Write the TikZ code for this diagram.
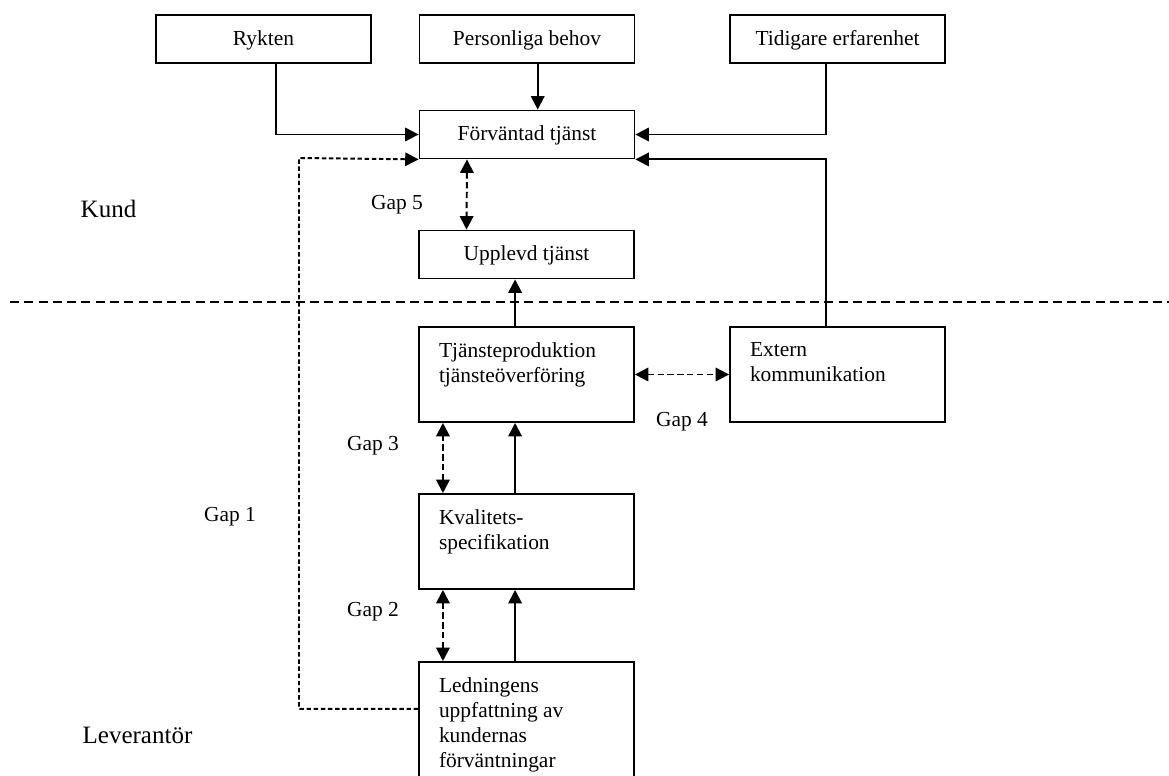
\documentclass[tikz,border=0pt]{standalone}
\usepackage{fontspec}
\setmainfont{Liberation Serif}
\usetikzlibrary{
  arrows.meta,
  calc,
  positioning
}
\tikzset{
%
  % For normal lines.
  line/.style={
    line width=1.1pt},
%
  % For thin lines.
  thin line/.style={
    line width=1pt},
%
  % For the solid flow 'A feeds B'.
  flow/.style={
    line,
    -{Triangle[length=7.5pt,
               width=7.5pt]}},
%
  % For the dashed link of gap 1.
  link/.style={
    line,
    dash pattern=on 2.5pt off 1.5pt,
    -{Triangle[length=7.5pt,
               width=7.5pt]}},
%
  % For the gaps between two boxes.
  gap/.style={
    line,
    dash pattern=on 3.5pt off 2pt,
    {Triangle[length=7.5pt,
              width=7.5pt]}-{Triangle[length=7.5pt,
                                      width=7.5pt]}},
%
  % For the line between customer and supplier.
  divider/.style={
    line,
    dash pattern=on 5pt off 3pt},
%
  % For boxes in general.
  box/.style={
    thin line,
    draw,
    inner sep=0pt,
    text height=0.9em,
    text depth=0.22em,
    minimum width=120.4pt,
    minimum height=26.9pt},
%
  % For the big boxes with text at the top.
  tall box/.style={
    box,
    minimum height=53.2pt},
%
  % For text in the big boxes.
  box text/.style={
    anchor=north west,
    align=left,
    inner xsep=11.5pt,
    inner ysep=9pt},
%
  % For the side labels.
  side label/.style={
    font=\fontsize{14}{17}\selectfont}
}

\begin{document}
\begin{tikzpicture}[x=0.56pt, y=-0.56pt,
                    font=\fontsize{12}{14}\selectfont]
  \useasboundingbox (0,0) rectangle (1169,776);

  \node[box] (rykten) at (263.5,39) {Rykten};
  \node[box] (behov) at (527,39) {Personliga behov};
  \node[box] (erfar) at (837.5,39) {Tidigare erfarenhet};
  \node[box] (forv) at (527,134.5) {Förväntad tjänst};
  \node[box] (upplevd) at (526.5,254.5) {Upplevd tjänst};

  \node[tall box] (prod) at (526.5,374.5) {};
  \node[box text] (prodtext) at (prod.north west)
    {Tjänsteproduktion\\tjänsteöverföring};
  \node[tall box] (extern) at (837.5,374.5) {};
  \node[box text] (externtext) at (extern.north west)
    {Extern\\kommunikation};
  \node[tall box] (kval) at (526.5,541.5) {};
  \node[box text] (kvaltext) at (kval.north west)
    {Kvalitets-\\specifikation};
  \node[tall box, minimum height=70pt] (ledn) at (526.5,724.5) {};
  \node[box text] (ledntext) at (ledn.north west)
    {Ledningens\\uppfattning av\\kundernas\\förväntningar};

  \node[side label] (kund) at (108.5,209) {Kund};
  \node[side label] (lev) at (137.5,735) {Leverantör};
  \node (gap1) at (230,517) {Gap 1};
  \node (gap2) at (373,612) {Gap 2};
  \node (gap3) at (373,446) {Gap 3};
  \node (gap4) at (682,422) {Gap 4};
  \node (gap5) at (397,205) {Gap 5};

  \coordinate (g1) at (299,158);
  \coordinate (divl) at (10,302);
  \coordinate (divr) at (1169,302);

  \draw[divider] (divl) -- (divr);

  \draw[flow] ([xshift=7pt]rykten.south) |- (forv.west);
  \draw[flow] ([xshift=6pt]behov.south) -- ([xshift=6pt]forv.north);
  \draw[flow] ([xshift=-6.5pt]erfar.south) |- (forv.east);
  \draw[flow] ([xshift=-6.5pt]extern.north) |- (forv.south east);
  \draw[link] ([yshift=8.7pt]ledn.west) -| (g1) -- (forv.south west);

  \draw[gap] ([xshift=-33.6pt]forv.south) -- ([xshift=-33.6pt]upplevd.north);
  \draw[flow] ([xshift=-6.4pt]prod.north) -- ([xshift=-6.4pt]upplevd.south);
  \draw[gap] (prod.east) -- (extern.west);
  \draw[gap] ([xshift=-46.8pt]kval.north) -- ([xshift=-46.8pt]prod.south);
  \draw[flow] ([xshift=-6.4pt]kval.north) -- ([xshift=-6.4pt]prod.south);
  \draw[gap] ([xshift=-46.8pt]ledn.north) -- ([xshift=-46.8pt]kval.south);
  \draw[flow] ([xshift=-6.4pt]ledn.north) -- ([xshift=-6.4pt]kval.south);
\end{tikzpicture}
\end{document}
